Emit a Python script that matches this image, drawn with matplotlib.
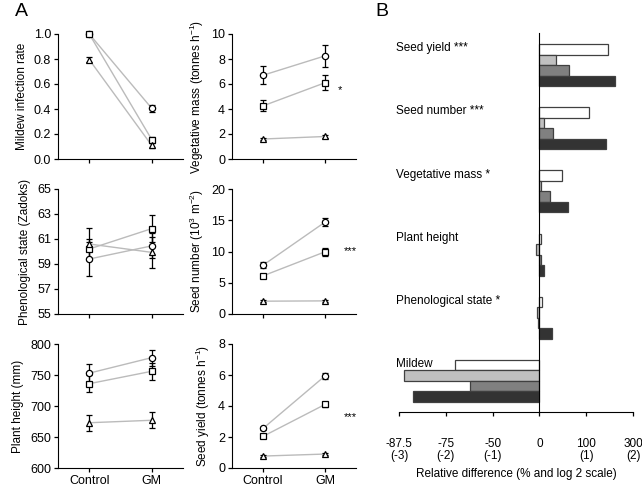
import matplotlib
matplotlib.use("Agg")
import matplotlib.pyplot as plt
import matplotlib.transforms as mtransforms

plt.rcParams['font.family'] = ['Liberation Sans', 'DejaVu Sans']
plt.rcParams['font.size'] = 8.5
plt.rcParams['mathtext.fontset'] = 'custom'
plt.rcParams['mathtext.rm'] = 'Liberation Sans'
plt.rcParams['mathtext.it'] = 'Liberation Sans:italic'

groups = ["Control", "GM"]

# panel A: values per marker series (circle, square, triangle), (Control, GM)
mildew = {"o": [1.0, 0.405], "s": [1.0, 0.155], "^": [0.795, 0.108]}
mildew_err = {"o": [0.01, 0.03], "s": [0.01, 0.02], "^": [0.02, 0.02]}
pheno = {"o": [59.4, 60.45], "s": [60.2, 61.83], "^": [60.6, 59.93]}
pheno_err = {"o": [1.35, 1.0], "s": [0.8, 1.1], "^": [1.25, 1.25]}
height = {"o": [753, 778], "s": [736, 756], "^": [673, 677]}
height_err = {"o": [14, 13], "s": [14, 14], "^": [13, 13]}
vegmass = {"o": [6.7, 8.25], "s": [4.25, 6.1], "^": [1.6, 1.8]}
vegmass_err = {"o": [0.7, 0.9], "s": [0.45, 0.6], "^": [0.1, 0.15]}
seednum = {"o": [7.8, 14.7], "s": [6.1, 9.95], "^": [2.05, 2.1]}
seednum_err = {"o": [0.5, 0.6], "s": [0.3, 0.6], "^": [0.15, 0.15]}
seedyield = {"o": [2.55, 5.94], "s": [2.04, 4.1], "^": [0.77, 0.9]}
seedyield_err = {"o": [0.1, 0.2], "s": [0.08, 0.15], "^": [0.08, 0.08]}

# panel B: log2 relative difference, four series per trait
traits = ["Seed yield ***", "Seed number ***", "Vegetative mass *",
          "Plant height", "Phenological state *", "Mildew"]
rel_white = [1.47, 1.06, 0.49, 0.04, 0.05, -1.8]
rel_light = [0.36, 0.09, 0.03, -0.07, -0.05, -2.9]
rel_mid = [0.64, 0.30, 0.23, 0.03, -0.04, -1.49]
rel_dark = [1.62, 1.43, 0.62, 0.09, 0.26, -2.7]
b_ticks = [-3, -2, -1, 0, 1, 2]
b_ticklabels = ["-87.5\n(-3)", "-75\n(-2)", "-50\n(-1)", "0", "100\n(1)", "300\n(2)"]

W, H = 642, 494
fig = plt.figure(figsize=(W / 100, H / 100), dpi=100)


def ax_px(x0, y0, x1, y1):
    return fig.add_axes([x0 / W, 1 - y1 / H, (x1 - x0) / W, (y1 - y0) / H])


def panel(ax, vals, errs, ylim, yticks, ylabel, show_x=False, star=None):
    for m in ["o", "s", "^"]:
        ax.plot([0, 1], vals[m], color="#bbbbbb", lw=1, zorder=1, clip_on=False)
        ax.errorbar([0, 1], vals[m], yerr=errs[m], fmt=m, ms=4.5, mfc="white",
                    mec="black", mew=0.9, ecolor="black", elinewidth=0.9,
                    capsize=2.5, capthick=0.9, zorder=3, clip_on=False)
    ax.set_xlim(-0.5, 1.5)
    ax.set_ylim(*ylim)
    ax.set_yticks(yticks)
    ax.set_xticks([0, 1])
    if show_x:
        ax.set_xticklabels(groups)
    else:
        ax.set_xticklabels([])
    ax.set_ylabel(ylabel, labelpad=4)
    for s in ["top", "right"]:
        ax.spines[s].set_visible(False)
    ax.tick_params(direction="out", length=3, width=0.9, pad=2, labelsize=9)
    if star:
        ax.text(star[0], star[1], star[2], fontsize=8, ha="left", va="center")


a1 = ax_px(58, 34, 183, 159)
panel(a1, mildew, mildew_err, (0, 1.0), [0, 0.2, 0.4, 0.6, 0.8, 1.0], "Mildew infection rate")
a1.set_yticklabels(["0.0", "0.2", "0.4", "0.6", "0.8", "1.0"])
a2 = ax_px(58, 189, 183, 314)
panel(a2, pheno, pheno_err, (55, 65), [55, 57, 59, 61, 63, 65], "Phenological state (Zadoks)")
a3 = ax_px(58, 344, 183, 468)
panel(a3, height, height_err, (600, 800), [600, 650, 700, 750, 800], "Plant height (mm)", show_x=True)

b1 = ax_px(232, 34, 356, 159)
panel(b1, vegmass, vegmass_err, (0, 10), [0, 2, 4, 6, 8, 10], "Vegetative mass (tonnes h$^{-1}$)",
      star=(1.2, 5.5, "*"))
b2 = ax_px(232, 189, 356, 314)
panel(b2, seednum, seednum_err, (0, 20), [0, 5, 10, 15, 20], "Seed number (10$^{3}$ m$^{-2}$)",
      star=(1.3, 10.0, "***"))
b3 = ax_px(232, 344, 356, 468)
panel(b3, seedyield, seedyield_err, (0, 8), [0, 2, 4, 6, 8], "Seed yield (tonnes h$^{-1}$)",
      show_x=True, star=(1.3, 3.3, "***"))

fig.text(15 / W, 1 - 12 / H, "A", fontsize=14, va="center", ha="left")
fig.text(375 / W, 1 - 12 / H, "B", fontsize=14, va="center", ha="left")

# panel B
bx = ax_px(399, 33, 633, 412)
colors = ["white", "#c0c0c0", "#808080", "#333333"]
series = [rel_white, rel_light, rel_mid, rel_dark]
for j, (vals, c) in enumerate(zip(series, colors)):
    ys = [i * 6 + j for i in range(len(traits))]
    bx.barh(ys, vals, height=1.0, color=c, edgecolor="#404040", lw=0.9, zorder=2)
bx.set_ylim(34.45, -1.55)
bx.set_xlim(-3, 2)
bx.set_yticks([])
bx.spines["left"].set_position(("data", 0))
bx.spines["left"].set_zorder(3)
bx.spines["top"].set_visible(False)
bx.spines["right"].set_visible(False)
bx.set_xticks(b_ticks)
bx.set_xticklabels(b_ticklabels, linespacing=1.0)
bx.tick_params(axis="x", direction="out", length=3, width=0.9, pad=16)
bx.set_xlabel("Relative difference (% and log 2 scale)", labelpad=4)
trans = mtransforms.blended_transform_factory(bx.transAxes, bx.transData)
for i, t in enumerate(traits):
    bx.text(-0.013, i * 6 - 0.1, t, transform=trans, ha="left", va="center", zorder=1)

fig.savefig("out.png", dpi=100)
